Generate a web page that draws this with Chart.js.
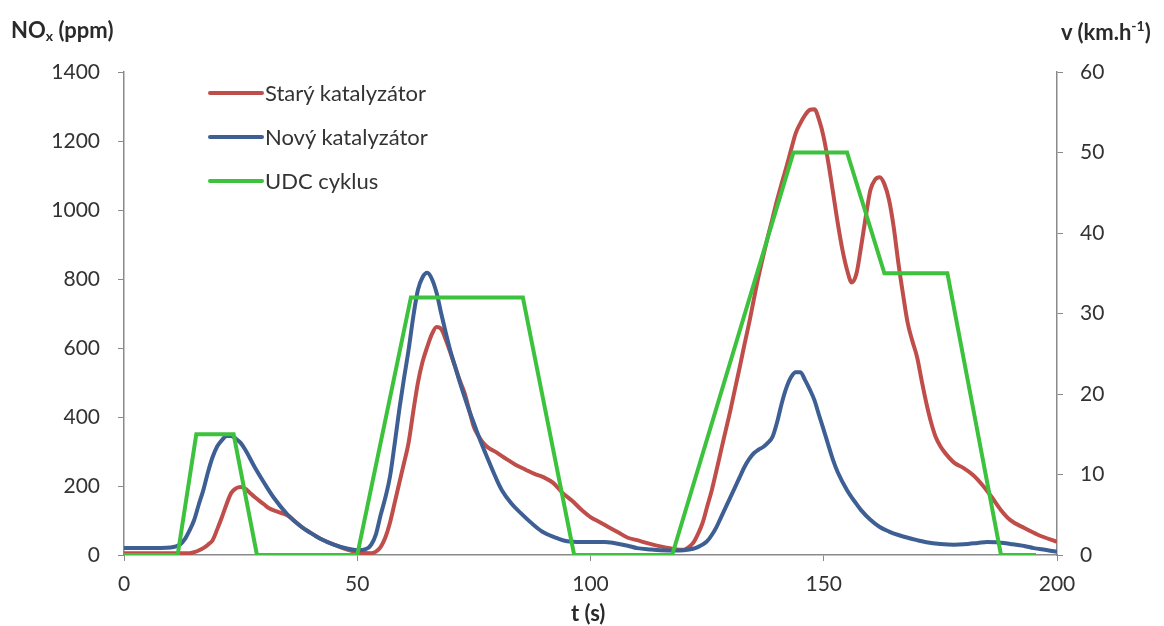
<!DOCTYPE html>
<html>
<head>
<meta charset="utf-8">
<script src="https://cdn.jsdelivr.net/npm/chart.js@4.4.0/dist/chart.umd.min.js"></script>
<style>
  html, body { margin: 0; padding: 0; background: #ffffff; }
  #wrap { position: relative; width: 1164px; height: 626px; font-family: Lato, "Open Sans", "Liberation Sans", sans-serif; color: #333; }
  canvas { position: absolute; left: 0; top: 0; }
  .title { position: absolute; font-weight: bold; font-size: 22px; white-space: nowrap; line-height: 1; color: #2a2a2a; }
  .title sub { font-size: 14px; vertical-align: -3px; }
  .title sup { font-size: 14px; vertical-align: 9px; }
  #legend { position: absolute; left: 208px; top: 79px; }
  .item { position: relative; height: 44px; font-size: 22px; line-height: 28px; white-space: nowrap; }
  .swatch { position: absolute; left: 0; top: 12px; width: 56px; height: 4px; border-radius: 2px; }
  .lbl { position: absolute; left: 57px; top: 0; }
</style>
</head>
<body>
<div id="wrap">
  <canvas id="c" width="1164" height="626"></canvas>
  <div class="title" style="left:11px; top:19px;">NO<sub>x</sub> (ppm)</div>
  <div class="title" style="left:1061px; top:19px;">v (km.h<sup>-1</sup>)</div>
  <div class="title" style="left:571px; top:602px;">t (s)</div>
  <div id="legend"></div>
</div>
<script>
// ---- Data ----
const seriesNames = ["Starý katalyzátor", "Nový katalyzátor", "UDC cyklus"];

// Starý katalyzátor (old catalyst), NOx ppm
const tRed = [0,5,10,14,15,16,17,18,19,20,21,22,23,24,25,26,27,28,30,31,33,35,38,40,42,45,48,50,53,54,55,56,57,58,59,60,61,62,63,64,65,66,67,68,69,70,71,72,73,74,75,76,77,78,80,82,84,86,88,90,92,94,96,98,100,102,104,106,108,110,112,114,116,118,120,121,122,123,124,125,126,127,128,129,130,131,132,133,134,135,136,137,138,139,140,141,142,143,144,145,146,147,148,149,150,151,152,153,154,155,156,157,158,159,160,161,162,163,164,165,166,167,168,169,170,171,172,173,174,175,176,178,180,182,184,186,188,190,193,196,200];
const red  = [5,5,5,5,8,13,20,30,43,75,110,148,180,193,197,192,180,168,147,136,125,115,82,64,48,30,15,8,5,10,23,50,93,150,208,265,325,415,499,560,603,640,661,655,623,585,545,505,470,420,371,345,325,312,296,278,261,248,235,225,209,180,158,132,110,95,80,65,50,43,35,28,22,17,15,22,35,60,92,140,188,245,304,362,420,483,545,610,672,740,806,865,922,975,1029,1078,1125,1175,1223,1252,1275,1290,1292,1261,1210,1136,1050,962,885,826,790,815,893,980,1058,1088,1095,1075,1029,950,846,755,672,620,574,505,440,385,342,315,296,267,252,232,203,168,130,101,78,58,38];

// Nový katalyzátor (new catalyst), NOx ppm
const tBlue = [0,5,10,12,13,14,15,16,17,18,19,20,21,22,23,24,25,26,28,30,32,35,38,40,42,45,48,50,52,53,54,55,56,57,58,59,60,61,62,63,64,65,66,67,68,69,70,71,72,73,74,75,76,78,80,81,83,85,88,90,93,95,98,100,103,105,108,110,113,115,118,120,122,123,124,125,126,127,128,129,130,131,132,133,134,135,136,137,138,139,140,141,142,143,144,145,146,147,148,149,150,151,152,153,155,157,158,160,162,164,166,168,170,172,175,178,180,183,185,187,190,193,195,198,200];
const blue  = [20,20,22,30,45,70,100,145,188,240,284,315,333,345,345,337,325,305,255,210,168,118,82,64,48,30,18,14,18,30,60,115,165,226,320,420,510,594,690,768,805,818,800,760,700,643,590,545,500,458,418,382,345,278,215,188,150,122,85,65,48,40,38,38,38,35,27,20,16,14,13,14,18,23,30,40,58,81,110,139,168,197,226,255,278,295,305,313,325,342,385,440,485,516,530,530,507,480,449,405,362,318,275,240,188,148,130,102,81,68,58,50,43,37,32,30,31,35,38,37,32,26,20,14,9];

// UDC cyklus (driving cycle), speed km/h
const tGreen = [0,11.5,15.5,23.5,28.5,50,61.5,85.5,96.5,117.5,143.5,155,163,176.5,188,195.5];
const green  = [0,0,15,15,0,0,32,32,0,0,50,50,35,35,0,0];

// Axis ranges / ticks
const xTicks = [0,50,100,150,200];
const yLeftMax = 1400, yLeftStep = 200;
const yRightMax = 60, yRightStep = 10;

const colors = ["#BF4E4B", "#3D5F93", "#3CC23C"];

const pts = (ts, vs) => ts.map((t, i) => ({x: t, y: vs[i]}));

const tickFont = {family: "Lato, 'Open Sans', 'Liberation Sans', sans-serif", size: 21};
const axisColor = "#8a8a8a";
const plain = (v) => String(v);

new Chart(document.getElementById("c"), {
  type: "line",
  data: {
    datasets: [
      {label: seriesNames[0], data: pts(tRed, red), borderColor: colors[0], borderWidth: 4, pointRadius: 0, tension: 0.4, cubicInterpolationMode: "monotone", yAxisID: "y", order: 2},
      {label: seriesNames[1], data: pts(tBlue, blue), borderColor: colors[1], borderWidth: 4, pointRadius: 0, tension: 0.4, cubicInterpolationMode: "monotone", yAxisID: "y", order: 1},
      {label: seriesNames[2], data: pts(tGreen, green), borderColor: colors[2], borderWidth: 4, pointRadius: 0, tension: 0, yAxisID: "y1", order: 0}
    ]
  },
  options: {
    responsive: false,
    animation: false,
    layout: {padding: {top: 72, left: 0, right: 0, bottom: 0}},
    plugins: {legend: {display: false}, tooltip: {enabled: false}},
    scales: {
      x: {
        type: "linear", min: 0, max: 200,
        afterBuildTicks: (s) => { s.ticks = xTicks.map(v => ({value: v})); },
        afterFit: (s) => { s.height = 71; },
        grid: {drawOnChartArea: false, drawTicks: true, tickLength: 6, color: axisColor},
        border: {color: axisColor, width: 1.5},
        ticks: {font: tickFont, color: "#333", padding: 11, maxRotation: 0, callback: plain}
      },
      y: {
        position: "left", min: 0, max: yLeftMax,
        afterFit: (s) => { s.width = 124; },
        grid: {drawOnChartArea: false, drawTicks: true, tickLength: 6, color: axisColor},
        border: {color: axisColor, width: 1.5},
        ticks: {stepSize: yLeftStep, font: tickFont, color: "#333", padding: 18, callback: plain}
      },
      y1: {
        position: "right", min: 0, max: yRightMax,
        afterFit: (s) => { s.width = 107; },
        grid: {drawOnChartArea: false, drawTicks: true, tickLength: 6, color: axisColor},
        border: {color: axisColor, width: 1.5},
        ticks: {stepSize: yRightStep, font: tickFont, color: "#333", padding: 17, callback: plain}
      }
    }
  }
});

// HTML legend built from the series names/colours
const lg = document.getElementById("legend");
seriesNames.forEach((n, i) => {
  const d = document.createElement("div");
  d.className = "item";
  d.innerHTML = '<span class="swatch" style="background:' + colors[i] + '"></span><span class="lbl"></span>';
  d.querySelector(".lbl").textContent = n;
  lg.appendChild(d);
});
</script>
</body>
</html>
